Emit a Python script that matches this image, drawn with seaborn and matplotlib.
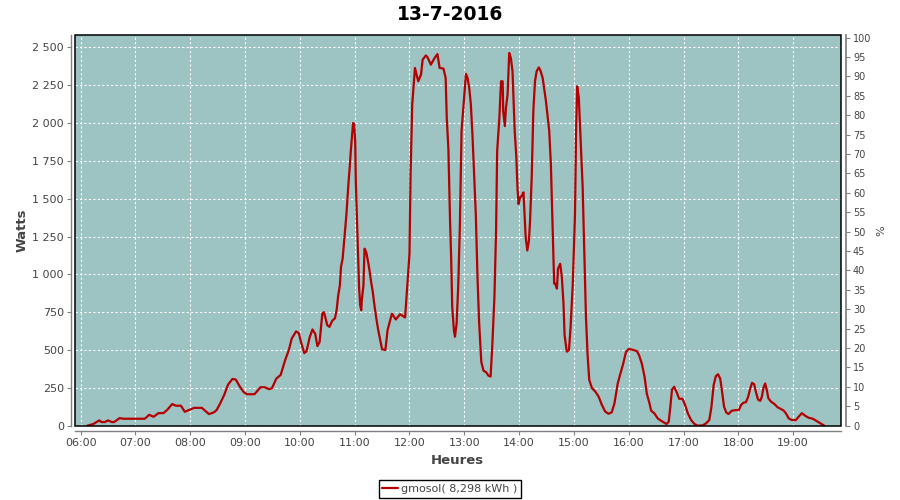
import matplotlib
matplotlib.use('Agg')
import matplotlib.pyplot as plt
from matplotlib.patches import Rectangle
from matplotlib.ticker import FuncFormatter
import seaborn as sns

# chart text
title = '13-7-2016'
series_name = 'gmosol( 8,298 kWh )'

# time of day (decimal hours) and power (W)
hours = [6.12, 6.23, 6.34, 6.38, 6.44, 6.50, 6.57, 6.61, 6.71, 6.78,
         7.17, 7.25, 7.33, 7.42, 7.51, 7.58, 7.67, 7.74, 7.83, 7.90,
         7.96, 8.07, 8.21, 8.27, 8.34, 8.43, 8.48, 8.54, 8.62, 8.69,
         8.77, 8.83, 8.90, 8.97, 9.03, 9.17, 9.22, 9.28, 9.36, 9.44,
         9.49, 9.57, 9.65, 9.73, 9.80, 9.85, 9.93, 9.98, 10.02, 10.08,
         10.12, 10.18, 10.23, 10.28, 10.32, 10.36, 10.41, 10.44, 10.50, 10.54,
         10.59, 10.64, 10.67, 10.70, 10.73, 10.75, 10.78, 10.81, 10.83, 10.85,
         10.87, 10.89, 10.91, 10.93, 10.95, 10.97, 10.99, 11.01, 11.02, 11.04,
         11.06, 11.08, 11.10, 11.12, 11.13, 11.16, 11.18, 11.21, 11.24, 11.27,
         11.30, 11.33, 11.36, 11.40, 11.43, 11.46, 11.50, 11.56, 11.60, 11.68,
         11.75, 11.83, 11.92, 11.95, 12.00, 12.02, 12.05, 12.10, 12.13, 12.16,
         12.21, 12.24, 12.30, 12.33, 12.39, 12.45, 12.51, 12.55, 12.62, 12.66,
         12.68, 12.71, 12.74, 12.76, 12.78, 12.81, 12.83, 12.86, 12.89, 12.92,
         12.95, 13.00, 13.03, 13.06, 13.09, 13.12, 13.15, 13.18, 13.21, 13.24,
         13.27, 13.31, 13.35, 13.40, 13.44, 13.48, 13.51, 13.55, 13.58, 13.60,
         13.64, 13.67, 13.70, 13.71, 13.74, 13.76, 13.79, 13.82, 13.85, 13.88,
         13.92, 13.95, 13.97, 13.99, 14.02, 14.05, 14.08, 14.10, 14.12, 14.15,
         14.18, 14.20, 14.23, 14.26, 14.29, 14.32, 14.36, 14.39, 14.43, 14.46,
         14.49, 14.52, 14.55, 14.58, 14.61, 14.64, 14.66, 14.69, 14.71, 14.75,
         14.78, 14.81, 14.83, 14.87, 14.91, 14.94, 14.98, 15.02, 15.04, 15.06,
         15.09, 15.13, 15.16, 15.19, 15.22, 15.25, 15.28, 15.33, 15.39, 15.45,
         15.51, 15.57, 15.63, 15.69, 15.74, 15.80, 15.84, 15.90, 15.95, 16.00,
         16.07, 16.15, 16.19, 16.24, 16.29, 16.33, 16.38, 16.41, 16.47, 16.53,
         16.59, 16.65, 16.69, 16.73, 16.76, 16.79, 16.83, 16.88, 16.92, 16.98,
         17.03, 17.08, 17.14, 17.20, 17.26, 17.35, 17.41, 17.47, 17.51, 17.55,
         17.59, 17.63, 17.67, 17.70, 17.74, 17.78, 17.82, 17.88, 17.95, 18.01,
         18.05, 18.09, 18.14, 18.18, 18.21, 18.25, 18.29, 18.32, 18.36, 18.40,
         18.43, 18.46, 18.49, 18.52, 18.55, 18.60, 18.66, 18.72, 18.78, 18.83,
         18.87, 18.92, 18.98, 19.05, 19.10, 19.16, 19.22, 19.28, 19.36, 19.42,
         19.48, 19.54, 19.57]
watts = [0, 11, 35, 24, 24, 35, 24, 24, 50, 46,
         46, 72, 59, 83, 83, 105, 143, 132, 132, 92,
         101, 118, 118, 99, 77, 88, 103, 143, 204, 272,
         309, 305, 261, 224, 208, 208, 228, 254, 254, 241,
         248, 311, 336, 432, 502, 575, 623, 612, 553, 480,
         491, 586, 636, 607, 526, 553, 743, 750, 664, 653,
         693, 710, 763, 862, 928, 1049, 1104, 1225, 1313, 1401,
         1511, 1621, 1709, 1819, 1907, 2000, 1995, 1874, 1621, 1379,
         1126, 917, 796, 763, 829, 928, 1170, 1148, 1093, 1027,
         950, 884, 796, 697, 631, 576, 505, 500, 632, 741,
         702, 737, 715, 873, 1136, 1662, 2123, 2364, 2320, 2276,
         2320, 2419, 2447, 2434, 2386, 2425, 2456, 2364, 2360, 2298,
         2035, 1827, 1355, 1114, 785, 632, 588, 675, 928, 1333,
         1947, 2189, 2325, 2298, 2232, 2123, 1914, 1662, 1399, 993,
         686, 423, 364, 353, 331, 325, 522, 851, 1289, 1816,
         2035, 2276, 2276, 2079, 1980, 2101, 2189, 2463, 2430, 2342,
         1947, 1772, 1575, 1465, 1509, 1520, 1542, 1399, 1246, 1158,
         1224, 1355, 1640, 2079, 2276, 2342, 2368, 2347, 2298, 2221,
         2145, 2046, 1947, 1728, 1333, 939, 939, 906, 1037, 1070,
         982, 807, 599, 489, 500, 654, 939, 1399, 1947, 2243,
         2167, 1838, 1575, 1158, 719, 467, 303, 248, 226, 193,
         138, 94, 79, 88, 147, 279, 333, 410, 487, 507,
         502, 493, 465, 410, 322, 213, 147, 99, 81, 48,
         33, 20, 11, 26, 125, 239, 257, 217, 178, 178,
         136, 81, 37, 11, 0, 2, 15, 37, 125, 268,
         327, 340, 311, 235, 125, 88, 77, 99, 103, 103,
         136, 151, 156, 191, 235, 283, 274, 224, 173, 164,
         191, 252, 279, 235, 180, 158, 143, 121, 110, 99,
         81, 48, 37, 37, 59, 83, 66, 53, 46, 33,
         20, 7, 0]

# axis ticks
hour_ticks = list(range(6, 20))
hour_labels = [f'{h:02d}:00' for h in hour_ticks]
watt_ticks = list(range(0, 2501, 250))
pct_ticks = list(range(0, 101, 5))

bg = '#9dc3c3'
red = '#b40000'
grey = '#808080'
txt = '#444444'

sns.set_theme(style='white')
plt.rcParams['font.family'] = ['DejaVu Sans']

fig = plt.figure(figsize=(9, 5), dpi=100)
ax = fig.add_axes([0.0833, 0.1486, 0.8506, 0.7808])
ax.set_facecolor(bg)

sns.lineplot(x=hours, y=watts, ax=ax, color=red, lw=1.6)
line = ax.lines[0]

ax.set_xlim(5.896, 19.865)
ax.set_ylim(0, 2580)
ax.set_xticks(hour_ticks)
ax.set_xticklabels(hour_labels)
ax.set_yticks(watt_ticks)
ax.yaxis.set_major_formatter(FuncFormatter(lambda v, p: f'{int(v):,}'.replace(',', ' ')))
ax.grid(True, color='white', linestyle=(0, (2, 2)), linewidth=0.8)
ax.set_axisbelow(True)

for s in ['top', 'right']:
    ax.spines[s].set_visible(False)
ax.spines['left'].set_position(('outward', 3))
ax.spines['bottom'].set_position(('outward', 4))
for s in ['left', 'bottom']:
    ax.spines[s].set_color(grey)
    ax.spines[s].set_linewidth(1.0)
ax.tick_params(axis='both', bottom=True, left=True, direction='out', length=3,
               width=0.8, color=grey, labelsize=8, labelcolor=txt, pad=2)

# black frame round the plot area
ax.add_patch(Rectangle((0, 0), 1, 1, transform=ax.transAxes, fill=False,
                       ec='black', lw=1.1, clip_on=False, zorder=4))

ax.set_xlabel('Heures', fontsize=9.5, fontweight='bold', color=txt)
ax.xaxis.set_label_coords(0.5, -0.088)
ax.xaxis.label.set_va('center')
ax.set_ylabel('Watts', fontsize=9.5, fontweight='bold', color=txt)
ax.yaxis.set_label_coords(-0.069, 0.5)
ax.yaxis.label.set_va('center')

# percent axis on the right
ax2 = ax.twinx()
ax2.set_ylim(0, 100.6)
ax2.set_yticks(pct_ticks)
ax2.grid(False)
for s in ['top', 'left', 'bottom']:
    ax2.spines[s].set_visible(False)
ax2.spines['right'].set_position(('outward', 4))
ax2.spines['right'].set_color(grey)
ax2.tick_params(axis='y', right=True, direction='out', length=3, width=0.8,
                color=grey, labelsize=7, labelcolor=txt, pad=2)
ax2.set_ylabel('%', fontsize=8, color=txt)
ax2.yaxis.set_label_coords(1.054, 0.5)
ax2.yaxis.label.set_va('center')

fig.text(0.5, 0.972, title, ha='center', va='center', fontsize=13.5,
         fontweight='bold', color='black')

leg = fig.legend(handles=[line], labels=[series_name], loc='lower center',
                 bbox_to_anchor=(0.5, 0.004), frameon=True, fancybox=False,
                 edgecolor='black', framealpha=1, fontsize=8, handlelength=1.4,
                 handletextpad=0.3, borderpad=0.35, borderaxespad=0)
leg.get_frame().set_linewidth(1.0)
for t in leg.get_texts():
    t.set_color(txt)

fig.savefig('out.png', dpi=100)
